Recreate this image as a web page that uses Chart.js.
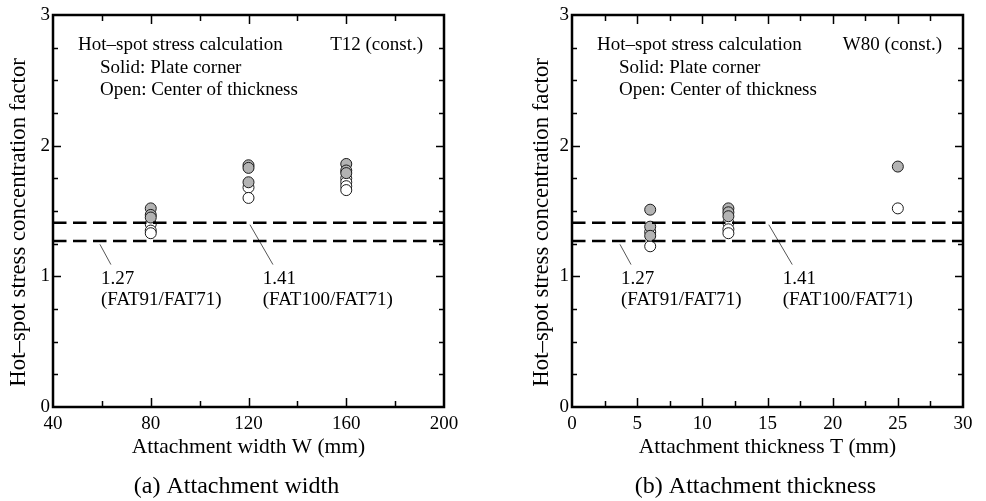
<!DOCTYPE html>
<html><head><meta charset="utf-8">
<script src="https://cdn.jsdelivr.net/npm/chart.js@4"></script>
<style>
html,body{margin:0;padding:0;background:#fff;}
#wrap{position:relative;width:986px;height:501px;background:#fff;}
.pane{position:absolute;top:0;width:493px;height:501px;}
</style></head><body>
<div id="wrap">
<div class="pane" style="left:0"><canvas id="cA" width="493" height="501"></canvas></div>
<div class="pane" style="left:493px"><canvas id="cB" width="493" height="501"></canvas></div>
</div>
<script>
// ---------- data: (a) attachment width, T12 constant ----------
const widthSolidX = [80, 80, 80, 120, 120, 120, 160, 160, 160];
const widthSolidY = [1.52, 1.47, 1.45, 1.85, 1.83, 1.72, 1.86, 1.81, 1.79];
const widthOpenX  = [80, 80, 80, 120, 120, 160, 160, 160, 160];
const widthOpenY  = [1.40, 1.35, 1.33, 1.68, 1.60, 1.75, 1.72, 1.69, 1.66];
const widthTickLabels = [40, 80, 120, 160, 200];

// ---------- data: (b) attachment thickness, W80 constant ----------
const thickSolidX = [6, 6, 6, 12, 12, 12, 25];
const thickSolidY = [1.51, 1.38, 1.31, 1.52, 1.49, 1.46, 1.84];
const thickOpenX  = [6, 6, 12, 12, 12, 25];
const thickOpenY  = [1.34, 1.23, 1.41, 1.36, 1.33, 1.52];
const thickTickLabels = [0, 5, 10, 15, 20, 25, 30];

// ---------- reference lines and labels ----------
const refLow = 1.27;
const refHigh = 1.41;
const labelLow = ['1.27', '(FAT91/FAT71)'];
const labelHigh = ['1.41', '(FAT100/FAT71)'];
const yTickLabels = [0, 1, 2, 3];
const yTitle = 'Hot\u2013spot stress concentration factor';
const noteLines = ['Hot\u2013spot stress calculation', 'Solid: Plate corner', 'Open: Center of thickness'];

// leader lines (data units)
const widthLeaderLowX = [59.2, 63.7];
const widthLeaderHighX = [120.6, 130.0];
const thickLeaderLowX = [3.68, 4.53];
const thickLeaderHighX = [15.1, 16.9];
const leaderY = [1.245, 1.09];
const leaderHighY = [1.395, 1.09];

const SERIF = '"Liberation Serif", "Times New Roman", serif';

function pts(xs, ys) { return xs.map((x, i) => ({x: x, y: ys[i]})); }

const panelPlugin = {
  id: 'panelPlugin',
  afterDatasetsDraw(chart) {
    const o = chart.options.plugins.panelPlugin;
    const ctx = chart.ctx, a = chart.chartArea;
    const xs = chart.scales.x, ys = chart.scales.y;
    ctx.save();
    ctx.strokeStyle = '#000';
    // inward ticks
    ctx.lineWidth = 1.5;
    xs.ticks.forEach(t => {
      if (t.value <= xs.min || t.value >= xs.max) return;
      const px = Math.round(xs.getPixelForValue(t.value)) + 0.5;
      const len = o.xMajor.includes(t.value) ? 9 : 6;
      ctx.beginPath();
      ctx.moveTo(px, a.bottom); ctx.lineTo(px, a.bottom - len);
      ctx.moveTo(px, a.top); ctx.lineTo(px, a.top + len);
      ctx.stroke();
    });
    ys.ticks.forEach(t => {
      if (t.value <= ys.min || t.value >= ys.max) return;
      const py = Math.round(ys.getPixelForValue(t.value)) + 0.5;
      const len = yTickLabels.includes(t.value) ? 8 : 5;
      ctx.beginPath();
      ctx.moveTo(a.left, py); ctx.lineTo(a.left + len, py);
      ctx.moveTo(a.right, py); ctx.lineTo(a.right - len, py);
      ctx.stroke();
    });
    // frame
    ctx.lineWidth = 2.5;
    ctx.strokeRect(a.left, a.top, a.right - a.left, a.bottom - a.top);
    // texts
    ctx.fillStyle = '#000';
    ctx.font = '19px ' + SERIF;
    ctx.textBaseline = 'alphabetic';
    ctx.textAlign = 'left';
    ctx.fillText(noteLines[0], a.left + 25, a.top + 35);
    ctx.fillText(noteLines[1], a.left + 47, a.top + 57.5);
    ctx.fillText(noteLines[2], a.left + 47, a.top + 80);
    ctx.textAlign = 'right';
    ctx.fillText(o.constText, a.right - 21, a.top + 35);
    ctx.textAlign = 'left';
    const yb1 = ys.getPixelForValue(0.943), yb2 = ys.getPixelForValue(0.782);
    const xl = xs.getPixelForValue(o.lowTextX), xh = xs.getPixelForValue(o.highTextX);
    ctx.fillText(labelLow[0], xl, yb1);
    ctx.fillText(labelLow[1], xl, yb2);
    ctx.fillText(labelHigh[0], xh, yb1);
    ctx.fillText(labelHigh[1], xh, yb2);
    // caption
    ctx.font = '24px ' + SERIF;
    ctx.textAlign = 'center';
    ctx.fillText(o.caption, (a.left + a.right) / 2 - 12, 493);
    ctx.restore();
  }
};

function makeChart(id, cfg) {
  const refLine = (yv) => ({
    type: 'line', data: [{x: cfg.xmin, y: yv}, {x: cfg.xmax, y: yv}],
    borderColor: '#000', borderWidth: 2.5, borderDash: [13.5, 6.5],
    pointRadius: 0, fill: false, order: 0
  });
  const leader = (xsArr, ysArr) => ({
    type: 'line', data: pts(xsArr, ysArr), borderColor: '#555', borderWidth: 1,
    pointRadius: 0, fill: false, order: 0
  });
  return new Chart(document.getElementById(id), {
    type: 'scatter',
    data: {
      datasets: [
        refLine(refHigh), refLine(refLow),
        leader(cfg.leaderLowX, leaderY), leader(cfg.leaderHighX, leaderHighY),
        { data: pts(cfg.openX, cfg.openY), backgroundColor: '#ffffff', borderColor: '#1a1a1a',
          borderWidth: 1, pointRadius: 5.5, order: 2 },
        { data: pts(cfg.solidX, cfg.solidY), backgroundColor: '#b3b3b3', borderColor: '#1a1a1a',
          borderWidth: 1, pointRadius: 5.5, order: 1 }
      ]
    },
    options: {
      responsive: false, animation: false,
      layout: { autoPadding: false, padding: { left: 0, right: cfg.padRight, top: 15, bottom: 0 } },
      plugins: {
        legend: { display: false }, tooltip: { enabled: false },
        panelPlugin: cfg.plugin
      },
      scales: {
        x: {
          type: 'linear', min: cfg.xmin, max: cfg.xmax,
          grid: { display: false, drawTicks: false }, border: { display: false },
          ticks: {
            stepSize: cfg.xstep, autoSkip: false, maxRotation: 0, padding: 6,
            color: '#000', font: { family: SERIF, size: 19 },
            callback: v => cfg.xLabels.includes(v) ? String(v) : ''
          },
          title: { display: true, text: cfg.xTitle, color: '#000',
            font: { family: SERIF, size: 21.5, lineHeight: 1.2 }, padding: { top: 0, bottom: 41 } },
          afterFit: s => { s.height = 94; }
        },
        y: {
          type: 'linear', min: 0, max: 3,
          grid: { display: false, drawTicks: false }, border: { display: false },
          ticks: {
            stepSize: 0.25, autoSkip: false, padding: 3,
            color: '#000', font: { family: SERIF, size: 19 },
            callback: v => yTickLabels.includes(v) ? String(v) : ''
          },
          title: { display: true, text: yTitle + '    ', color: '#000',
            font: { family: SERIF, size: 22.8, lineHeight: 1.2 }, padding: { top: cfg.yTitlePad, bottom: 0 } },
          afterFit: s => { s.width = cfg.yWidth; }
        }
      }
    },
    plugins: [panelPlugin]
  });
}

makeChart('cA', {
  xmin: 40, xmax: 200, xstep: 20, xLabels: widthTickLabels,
  solidX: widthSolidX, solidY: widthSolidY, openX: widthOpenX, openY: widthOpenY,
  leaderLowX: widthLeaderLowX, leaderHighX: widthLeaderHighX,
  padRight: 49, yWidth: 53, yTitlePad: 5.3,
  xTitle: 'Attachment width W (mm)',
  plugin: { xMajor: widthTickLabels, constText: 'T12 (const.)', caption: '(a) Attachment width',
    lowTextX: 59.6, highTextX: 125.8 }
});

makeChart('cB', {
  xmin: 0, xmax: 30, xstep: 2.5, xLabels: thickTickLabels,
  solidX: thickSolidX, solidY: thickSolidY, openX: thickOpenX, openY: thickOpenY,
  leaderLowX: thickLeaderLowX, leaderHighX: thickLeaderHighX,
  padRight: 23, yWidth: 79, yTitlePad: 35,
  xTitle: 'Attachment thickness T (mm)',
  plugin: { xMajor: thickTickLabels, constText: 'W80 (const.)', caption: '(b) Attachment thickness',
    lowTextX: 3.76, highTextX: 16.17 }
});
</script>
</body></html>
